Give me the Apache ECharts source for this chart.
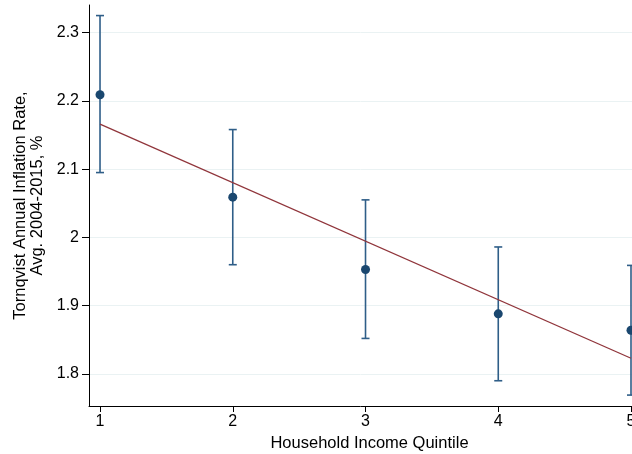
<!DOCTYPE html>
<html>
<head>
<meta charset="utf-8">
<script src="https://cdn.jsdelivr.net/npm/echarts@6/dist/echarts.min.js"></script>
<style>html,body{margin:0;padding:0;background:#fff;}#c{width:632px;height:454px;}</style>
</head>
<body>
<div id="c"></div>
<script>
const quintiles = [1, 2, 3, 4, 5];
const meanRate = [2.209, 2.059, 1.953, 1.888, 1.864];
const ciLow = [2.095, 1.960, 1.852, 1.790, 1.769];
const ciHigh = [2.325, 2.158, 2.055, 1.986, 1.959];
const fitX = [1, 5];
const fitY = [2.166, 1.823];
const xTicks = [1, 2, 3, 4, 5];
const yTicks = [1.8, 1.9, 2, 2.1, 2.2, 2.3];

const chart = echarts.init(document.getElementById('c'), null, {renderer: 'canvas'});
const font = 'Liberation Sans, Arial, sans-serif';
const ciColor = '#2f5e88';
const ptColor = '#1a476f';

const gridLines = yTicks.map(v => ({yAxis: v}));

chart.setOption({
  animation: false,
  grid: {left: 89, right: 0, top: 5, bottom: 48, outerBoundsMode: 'none', containLabel: false},
  xAxis: {
    type: 'value', min: 0.917, max: 5.0075,
    name: 'Household Income Quintile', nameLocation: 'middle', nameGap: 27,
    nameTextStyle: {fontFamily: font, fontSize: 16.5, color: '#000', padding: [0, 0, 0, 18]},
    axisLine: {show: true, lineStyle: {color: '#000', width: 1}},
    axisTick: {show: true, length: 6, lineStyle: {color: '#000'}, customValues: xTicks},
    axisLabel: {fontFamily: font, fontSize: 16, color: '#000', margin: 8, customValues: xTicks, hideOverlap: false},
    splitLine: {show: false}
  },
  yAxis: {
    type: 'value', min: 1.753, max: 2.3405,
    name: 'Tornqvist Annual Inflation Rate,\nAvg. 2004-2015, %', nameLocation: 'middle', nameGap: 43,
    nameTextStyle: {fontFamily: font, fontSize: 16.5, color: '#000', lineHeight: 17},
    axisLine: {show: true, lineStyle: {color: '#000', width: 1}},
    axisTick: {show: true, length: 7, lineStyle: {color: '#000'}, customValues: yTicks},
    axisLabel: {fontFamily: font, fontSize: 16, color: '#000', margin: 10, customValues: yTicks,
      formatter: v => String(Math.round(v * 10) / 10)},
    splitLine: {show: false}
  },
  series: [
    {
      type: 'line', data: [], silent: true, z: 0, zlevel: 0,
      markLine: {symbol: 'none', silent: true, label: {show: false}, z: 0,
        lineStyle: {color: '#eaf2f3', width: 1, type: 'solid'}, data: gridLines}
    },
    {
      type: 'custom',
      data: quintiles.map((q, i) => [q, ciLow[i], ciHigh[i]]),
      renderItem: function (params, api) {
        const lo = api.coord([api.value(0), api.value(1)]);
        const hi = api.coord([api.value(0), api.value(2)]);
        const hw = 4;
        const style = {stroke: ciColor, lineWidth: 1.6};
        return {type: 'group', children: [
          {type: 'line', shape: {x1: lo[0], y1: lo[1], x2: hi[0], y2: hi[1]}, style},
          {type: 'line', shape: {x1: lo[0] - hw, y1: lo[1], x2: lo[0] + hw, y2: lo[1]}, style},
          {type: 'line', shape: {x1: hi[0] - hw, y1: hi[1], x2: hi[0] + hw, y2: hi[1]}, style}
        ]};
      },
      z: 2
    },
    {
      type: 'line', data: fitX.map((x, i) => [x, fitY[i]]), symbol: 'none',
      lineStyle: {color: '#90353b', width: 1.3}, z: 3
    },
    {
      type: 'scatter', data: quintiles.map((q, i) => [q, meanRate[i]]),
      symbolSize: 9, itemStyle: {color: ptColor, opacity: 1}, z: 4
    }
  ]
});
</script>
</body>
</html>
